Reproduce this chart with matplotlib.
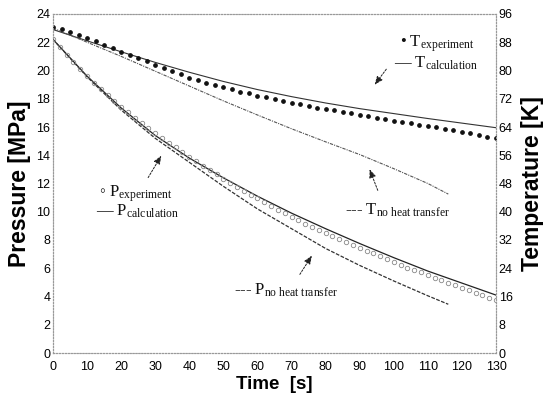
import matplotlib
matplotlib.use("Agg")
import matplotlib.pyplot as plt

plt.rcParams["font.family"] = ["Liberation Sans", "DejaVu Sans"]
plt.rcParams["mathtext.fontset"] = "custom"
plt.rcParams["mathtext.rm"] = "Liberation Serif"
plt.rcParams["mathtext.it"] = "Liberation Serif:italic"

# ── Data (pressure in MPa on left axis, temperature in K on right axis) ──
t_calc = [0, 10, 20, 30, 40, 50, 60, 70, 80, 90, 100, 110, 120, 130]
p_calc = [22.2, 19.6, 17.35, 15.4, 13.8, 12.4, 11.1, 9.9, 8.8, 7.75, 6.75, 5.8, 4.95, 4.1]
T_calc = [91.6, 88.4, 85.3, 82.3, 79.5, 76.9, 74.6, 72.6, 70.8, 69.2, 67.8, 66.4, 65.1, 63.8]

t_noht = [0, 10, 20, 30, 40, 50, 60, 70, 80, 90, 100, 110, 116]
p_noht = [22.2, 19.55, 17.2, 15.2, 13.5, 11.8, 10.2, 8.8, 7.4, 6.2, 5.1, 4.05, 3.45]
T_noht = [92.0, 88.0, 84.0, 79.8, 75.6, 71.4, 67.4, 63.5, 59.8, 56.2, 52.2, 48.0, 45.0]

t_pexp = [0, 2, 4, 6, 8, 10, 12, 14, 16, 18, 20, 22, 24, 26, 28, 30, 32, 34, 36, 38,
          40, 42, 44, 46, 48, 50, 52, 54, 56, 58, 60, 62, 64, 66, 68, 70, 72, 74, 76, 78,
          80, 82, 84, 86, 88, 90, 92, 94, 96, 98, 100, 102, 104, 106, 108, 110, 112, 114,
          116, 118, 120, 122, 124, 126, 128, 130]
p_exp = [22.2, 21.65, 21.1, 20.6, 20.1, 19.6, 19.15, 18.7, 18.25, 17.85, 17.45, 17.05,
         16.65, 16.3, 15.9, 15.55, 15.2, 14.85, 14.55, 14.2, 13.9, 13.6, 13.25, 12.95,
         12.65, 12.35, 12.05, 11.75, 11.5, 11.2, 10.95, 10.7, 10.4, 10.15, 9.9, 9.65,
         9.4, 9.15, 8.95, 8.7, 8.5, 8.3, 8.05, 7.85, 7.65, 7.45, 7.25, 7.05, 6.85, 6.65,
         6.45, 6.25, 6.05, 5.9, 5.7, 5.5, 5.3, 5.15, 4.95, 4.8, 4.6, 4.45, 4.25, 4.1,
         3.9, 3.75]

t_Texp = [0, 2.5, 5, 7.5, 10, 12.5, 15, 17.5, 20, 22.5, 25, 27.5, 30, 32.5, 35, 37.5,
          40, 42.5, 45, 47.5, 50, 52.5, 55, 57.5, 60, 62.5, 65, 67.5, 70, 72.5, 75, 77.5,
          80, 82.5, 85, 87.5, 90, 92.5, 95, 97.5, 100, 102.5, 105, 107.5, 110, 112.5, 115,
          117.5, 120, 122.5, 125, 127.5, 130]
T_exp = [92.4, 91.7, 90.8, 90.1, 89.2, 88.3, 87.2, 86.3, 85.2, 84.4, 83.4, 82.6, 81.6,
         80.8, 79.8, 79.0, 78.0, 77.4, 76.6, 76.0, 75.2, 74.7, 74.0, 73.5, 72.8, 72.4,
         71.8, 71.4, 70.8, 70.4, 69.9, 69.5, 69.0, 68.7, 68.2, 67.9, 67.4, 67.1, 66.6,
         66.3, 65.8, 65.5, 65.0, 64.7, 64.2, 63.9, 63.4, 63.1, 62.6, 62.2, 61.7, 61.3, 60.8]

x_ticks = list(range(0, 131, 10))
p_ticks = list(range(0, 25, 2))
T_ticks = list(range(0, 97, 8))

fig = plt.figure(figsize=(5.44, 4.00), dpi=100)
ax = fig.add_axes([53 / 544, 47 / 400, 443 / 544, 339 / 400])
ax2 = ax.twinx()

# ── Pressure curves ──
ax.plot(t_calc, p_calc, color="#222222", lw=0.9)
ax.plot(t_noht, p_noht, color="#333333", lw=0.9, dashes=(3, 1.2))
ax.plot(t_pexp, p_exp, ls="none", marker="o", ms=3.2, mfc="none",
        mec="#888888", mew=0.6)

# ── Temperature curves ──
ax2.plot(t_calc, T_calc, color="#333333", lw=0.8)
ax2.plot(t_noht, T_noht, color="#555555", lw=0.8, dashes=(3, 1, 1, 1))
ax2.plot(t_Texp, T_exp, ls="none", marker="o", ms=2.4, color="#111111")

ax.set_xlim(0, 130)
ax.set_ylim(0, 24)
ax2.set_ylim(0, 96)
ax.set_xticks(x_ticks)
ax.set_yticks(p_ticks)
ax2.set_yticks(T_ticks)

for a in (ax, ax2):
    a.tick_params(length=0, pad=2, labelsize=9)
    for s in a.spines.values():
        s.set_linestyle(":")
        s.set_color("#999999")
        s.set_linewidth(0.8)
ax.tick_params(axis="x", pad=6)

ax.set_xlabel("Time  [s]", fontsize=13.5, fontweight="bold", labelpad=2)
ax.set_ylabel("Pressure [MPa]", fontsize=16.5, fontweight="bold", labelpad=4)
ax2.set_ylabel("Temperature [K]", fontsize=16.5, fontweight="bold", labelpad=6)

# ── In-plot labels ──
serif = ["Liberation Serif", "DejaVu Serif"]
lab = dict(fontsize=12, family=serif, va="baseline", ha="left", color="#111111")
ax.text(101.9, 21.7, "\u2022 T$_{\\mathrm{experiment}}$", **lab)
ax.text(100.2, 20.18, "\u2014 T$_{\\mathrm{calculation}}$", **lab)
ax.text(85.6, 9.77, "--- T$_{\\mathrm{no\\ heat\\ transfer}}$", **lab)
ax.text(13.6, 11.05, "\u25e6 P$_{\\mathrm{experiment}}$", **lab)
ax.text(12.6, 9.7, "\u2014 P$_{\\mathrm{calculation}}$", **lab)
ax.text(53.2, 4.1, "--- P$_{\\mathrm{no\\ heat\\ transfer}}$", **lab)

arrow = dict(arrowstyle="-|>,head_length=0.5,head_width=0.2", color="#222222",
             lw=0.7, linestyle=(0, (2, 1.5)))
ax.annotate("", xy=(93.9, 18.83), xytext=(98.3, 20.25), arrowprops=arrow)
ax.annotate("", xy=(92.6, 13.19), xytext=(95.6, 11.33), arrowprops=arrow)
ax.annotate("", xy=(32.2, 14.14), xytext=(27.5, 12.25), arrowprops=arrow)
ax.annotate("", xy=(76.4, 7.06), xytext=(72.0, 5.4), arrowprops=arrow)

fig.savefig("out.png", dpi=100)
